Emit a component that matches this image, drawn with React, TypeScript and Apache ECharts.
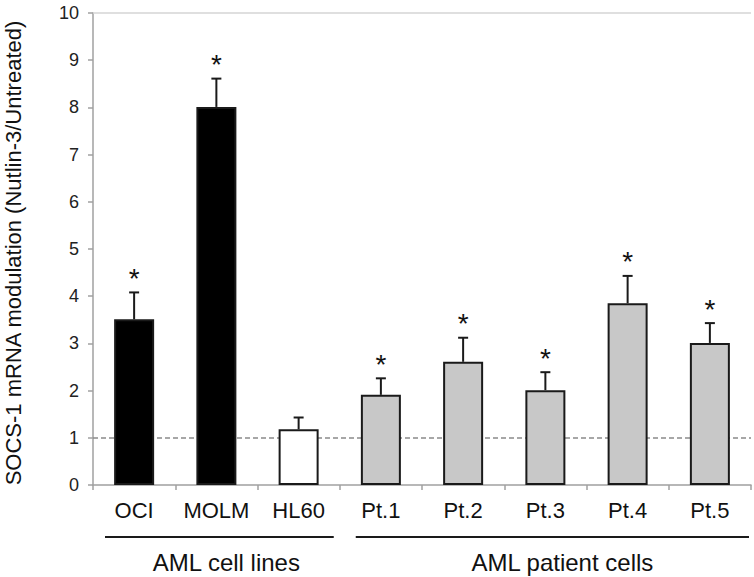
import React, { useEffect, useRef } from "react";
import * as echarts from "echarts";

const categories = ["OCI", "MOLM", "HL60", "Pt.1", "Pt.2", "Pt.3", "Pt.4", "Pt.5"];
const means = [3.51, 8.01, 1.18, 1.91, 2.61, 2.01, 3.85, 3.01];
const errors = [0.57, 0.6, 0.25, 0.35, 0.51, 0.38, 0.58, 0.42];
const significant = [true, true, false, true, true, true, true, true];
const barFills = ["#000000", "#000000", "#ffffff", "#c8c8c8", "#c8c8c8", "#c8c8c8", "#c8c8c8", "#c8c8c8"];
const referenceLevel = 1;
const yMax = 10;
const groupNames = ["AML cell lines", "AML patient cells"];
const groupRanges = [[0, 2], [3, 7]];
const yTitle = "SOCS-1 mRNA modulation (Nutlin-3/Untreated)";

const FONT = '"Liberation Sans", Arial, sans-serif';

export default function App() {
  const ref = useRef<HTMLDivElement>(null);
  useEffect(() => {
    if (!ref.current) return;
    const chart = echarts.init(ref.current, null, { renderer: "svg" });
    const option: any = {
      animation: false,
      backgroundColor: "#ffffff",
      grid: { left: 93, right: 3, top: 13, bottom: 92 },
      xAxis: {
        type: "category",
        data: categories,
        axisLine: { show: true, lineStyle: { color: "#a0a0a0", width: 1.5 } },
        axisTick: { show: true, length: 5, lineStyle: { color: "#a0a0a0", width: 1.5 } },
        axisLabel: { interval: 0, fontSize: 22, fontFamily: FONT, color: "#111", margin: 14 },
      },
      yAxis: {
        type: "value",
        min: 0,
        max: yMax,
        interval: 1,
        axisLine: { show: true, lineStyle: { color: "#a0a0a0", width: 1.5 } },
        axisTick: { show: true, length: 5, lineStyle: { color: "#a0a0a0", width: 1.5 } },
        axisLabel: { fontSize: 18, fontFamily: FONT, color: "#222", margin: 14 },
        splitLine: { show: false },
      },
      series: [
        {
          type: "bar",
          z: 2,
          barWidth: 40,
          data: means.map((v, i) => ({
            value: v,
            itemStyle: { color: barFills[i], borderColor: "#1a1a1a", borderWidth: 2 },
          })),
          markLine: {
            z: 1,
            silent: true,
            symbol: ["none", "none"],
            label: { show: false },
            data: [
              { yAxis: referenceLevel, lineStyle: { type: [5, 3], color: "#8a8a8a", width: 1.5 } },
              { yAxis: yMax, lineStyle: { type: "solid", color: "#d4d4d4", width: 1.5 } },
            ],
          },
        },
        {
          type: "custom",
          z: 3,
          data: means.map((v, i) => [i, v, v + errors[i], significant[i] ? 1 : 0]),
          encode: { x: 0, y: 2 },
          renderItem: (params: any, api: any) => {
            const i = api.value(0);
            const base = api.coord([i, api.value(1)]);
            const top = api.coord([i, api.value(2)]);
            const children: any[] = [
              {
                type: "line",
                shape: { x1: base[0], y1: base[1], x2: top[0], y2: top[1] },
                style: { stroke: "#1a1a1a", lineWidth: 2 },
              },
              {
                type: "line",
                shape: { x1: top[0] - 5, y1: top[1], x2: top[0] + 5, y2: top[1] },
                style: { stroke: "#1a1a1a", lineWidth: 2 },
              },
            ];
            if (api.value(3)) {
              children.push({
                type: "text",
                x: top[0],
                y: top[1] - 14,
                style: {
                  text: "*",
                  font: `28px ${FONT}`,
                  fill: "#111",
                  align: "center",
                  verticalAlign: "middle",
                },
              });
            }
            return { type: "group", children };
          },
        },
      ],
    };
    chart.setOption(option);

    const cx = (i: number) => chart.convertToPixel({ xAxisIndex: 0 }, i) as number;
    const band = cx(1) - cx(0);
    const lineY = 537;
    const textY = 562;
    const g1 = groupRanges[0];
    const g2 = groupRanges[1];
    const l1 = [cx(g1[0]) - band / 2 + 12, cx(g1[1]) + band / 2 - 6];
    const l2 = [cx(g2[0]) - band / 2 + 16, cx(g2[1]) + band / 2 - 2];
    const graphic: any[] = [
      {
        type: "line",
        shape: { x1: l1[0], y1: lineY, x2: l1[1], y2: lineY },
        style: { stroke: "#1a1a1a", lineWidth: 2 },
      },
      {
        type: "line",
        shape: { x1: l2[0], y1: lineY, x2: l2[1], y2: lineY },
        style: { stroke: "#1a1a1a", lineWidth: 2 },
      },
      {
        type: "text",
        x: (l1[0] + l1[1]) / 2 + 7,
        y: textY,
        style: { text: groupNames[0], font: `24px ${FONT}`, fill: "#111", align: "center", verticalAlign: "middle" },
      },
      {
        type: "text",
        x: (l2[0] + l2[1]) / 2 + 10,
        y: textY,
        style: { text: groupNames[1], font: `24px ${FONT}`, fill: "#111", align: "center", verticalAlign: "middle" },
      },
      {
        type: "text",
        x: 13,
        y: 253,
        rotation: Math.PI / 2,
        style: { text: yTitle, font: `22px ${FONT}`, fill: "#111", align: "center", verticalAlign: "middle" },
      },
    ];
    chart.setOption({ graphic });
    return () => chart.dispose();
  }, []);
  return (
    <div
      ref={ref}
      style={{ position: "fixed", left: 0, top: 0, width: 754, height: 577, background: "#fff" }}
    />
  );
}
